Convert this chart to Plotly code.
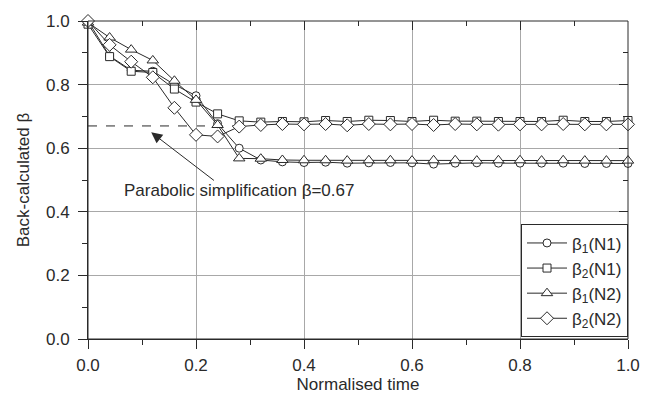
import plotly.graph_objects as go

# ---- data ----
time = [0.00, 0.04, 0.08, 0.12, 0.16, 0.20, 0.24, 0.28, 0.32, 0.36,
        0.40, 0.44, 0.48, 0.52, 0.56, 0.60, 0.64, 0.68, 0.72, 0.76,
        0.80, 0.84, 0.88, 0.92, 0.96, 1.00]

beta1_N1 = [1.000, 0.890, 0.845, 0.842, 0.800, 0.765, 0.677, 0.600, 0.563, 0.557,
            0.555, 0.556, 0.553, 0.554, 0.555, 0.554, 0.550, 0.553, 0.554, 0.553,
            0.553, 0.553, 0.553, 0.552, 0.552, 0.552]
beta2_N1 = [0.990, 0.888, 0.842, 0.838, 0.786, 0.745, 0.708, 0.686, 0.682, 0.684,
            0.683, 0.687, 0.684, 0.688, 0.687, 0.684, 0.688, 0.685, 0.685, 0.684,
            0.684, 0.684, 0.688, 0.684, 0.684, 0.687]
beta1_N2 = [0.995, 0.948, 0.910, 0.876, 0.812, 0.752, 0.673, 0.568, 0.567, 0.563,
            0.562, 0.562, 0.561, 0.562, 0.562, 0.561, 0.562, 0.562, 0.561, 0.562,
            0.562, 0.561, 0.562, 0.561, 0.561, 0.561]
beta2_N2 = [1.000, 0.925, 0.872, 0.823, 0.727, 0.642, 0.637, 0.668, 0.673, 0.676,
            0.675, 0.676, 0.672, 0.676, 0.675, 0.676, 0.673, 0.676, 0.675, 0.674,
            0.675, 0.675, 0.676, 0.675, 0.675, 0.675]

series_names = ["β<sub>1</sub>(N1)", "β<sub>2</sub>(N1)", "β<sub>1</sub>(N2)", "β<sub>2</sub>(N2)"]
series_values = [beta1_N1, beta2_N1, beta1_N2, beta2_N2]
series_symbols = ["circle", "square", "triangle-up", "diamond"]
series_sizes = [8, 8, 10, 10]

BETA_PARABOLIC = 0.67
ANNOT_TEXT = "Parabolic simplification β=0.67"

FONT = "Liberation Sans, Arial, sans-serif"
FS = 17
DARK = "#2a2a2a"

fig = go.Figure()

for name, vals, sym, sz in zip(series_names, series_values, series_symbols, series_sizes):
    fig.add_trace(go.Scatter(
        x=time, y=vals, name=name, mode="lines+markers",
        line=dict(color=DARK, width=1),
        marker=dict(symbol=sym, size=sz, color="white", line=dict(color=DARK, width=1)),
        cliponaxis=False,
    ))

# dummy trace for mirrored axes
fig.add_trace(go.Scatter(x=[None], y=[None], xaxis="x2", yaxis="y2", showlegend=False, hoverinfo="skip"))

# parabolic reference line
fig.add_shape(type="line", xref="x", yref="y", x0=0, x1=0.3, y0=BETA_PARABOLIC, y1=BETA_PARABOLIC,
              line=dict(color=DARK, width=1, dash="dash"), layer="below")

fig.add_annotation(x=0.28, y=0.468, xref="x", yref="y", text=ANNOT_TEXT, showarrow=False,
                   font=dict(family=FONT, size=FS, color=DARK))
fig.add_annotation(x=0.117, y=0.650, xref="x", yref="y", text="", showarrow=True,
                   ax=0.236, ay=0.495, axref="x", ayref="y",
                   arrowhead=2, arrowsize=2.2, arrowwidth=1, arrowcolor=DARK)

axis_common = dict(
    range=[0, 1], dtick=0.2, tickformat=".1f",
    showline=True, linecolor=DARK, linewidth=1,
    ticks="outside", ticklen=9, tickcolor=DARK, tickwidth=1,
    showgrid=True, gridcolor="#a8a8a8", gridwidth=1,
    zeroline=False,
    tickfont=dict(family=FONT, size=FS, color=DARK),
    minor=dict(ticks="outside", ticklen=5, dtick=0.1, tickcolor=DARK, showgrid=False),
)

fig.update_layout(
    width=656, height=399,
    margin=dict(l=88, r=28, t=18, b=59),
    paper_bgcolor="white", plot_bgcolor="white",
    font=dict(family=FONT, size=FS, color=DARK),
    xaxis=dict(**axis_common, ticklabelstandoff=2,
               title=dict(text="Normalised time", standoff=0,
                          font=dict(family=FONT, size=FS, color=DARK))),
    yaxis=dict(**axis_common, ticklabelstandoff=5,
               title=dict(text="Back-calculated β", standoff=12,
                          font=dict(family=FONT, size=FS, color=DARK))),
    xaxis2=dict(range=[0, 1], overlaying="x", side="top", anchor="y", showgrid=False, zeroline=False,
                showline=False, ticks="inside", ticklen=9, tickcolor=DARK, dtick=0.2,
                showticklabels=False,
                minor=dict(ticks="inside", ticklen=5, dtick=0.1, tickcolor=DARK)),
    yaxis2=dict(range=[0, 1], overlaying="y", side="right", anchor="x", showgrid=False, zeroline=False,
                showline=False, ticks="inside", ticklen=9, tickcolor=DARK, dtick=0.2,
                showticklabels=False,
                minor=dict(ticks="inside", ticklen=5, dtick=0.1, tickcolor=DARK)),
    legend=dict(x=1, y=0.005, xanchor="right", yanchor="bottom",
                bgcolor="white", bordercolor=DARK, borderwidth=1,
                font=dict(family=FONT, size=FS, color=DARK),
                tracegroupgap=0, itemwidth=40),
    showlegend=True,
)

# draw top/right frame
fig.add_shape(type="rect", xref="paper", yref="paper", x0=0, x1=1, y0=0, y1=1,
              line=dict(color=DARK, width=1), layer="above")

fig.write_html("out.html")
